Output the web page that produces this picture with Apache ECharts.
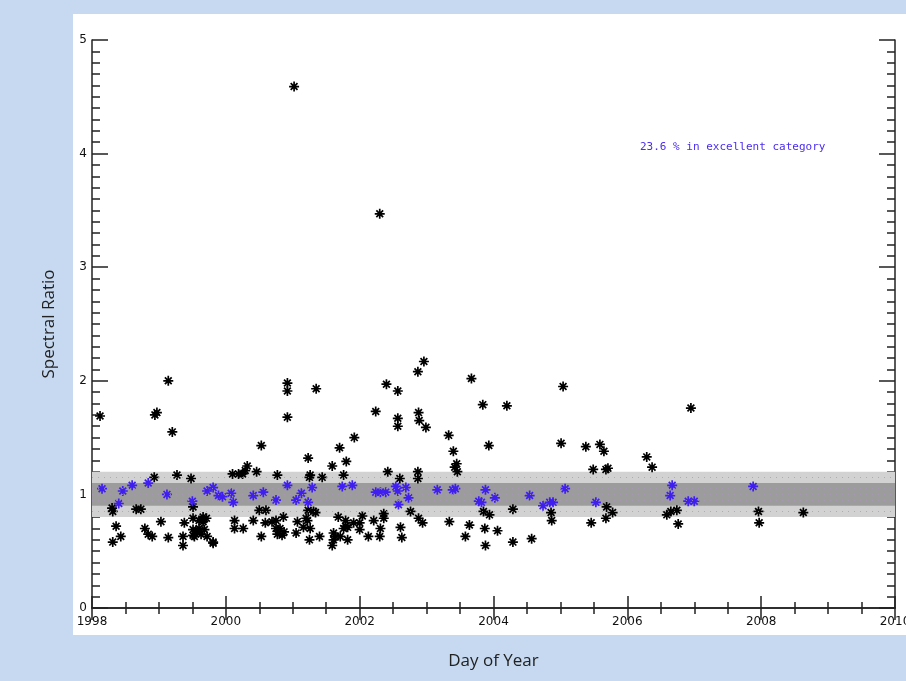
<!DOCTYPE html>
<html>
<head>
<meta charset="utf-8">
<script src="https://cdn.jsdelivr.net/npm/echarts@6/dist/echarts.min.js"></script>
<style>
  html, body { margin: 0; padding: 0; background: #c6d9f0; }
  #chart { width: 906px; height: 681px; }
</style>
</head>
<body>
<div id="chart"></div>
<script>
// black points (all measurements)
var blackYears = [
  1998.12, 1998.30, 1998.31, 1998.36, 1998.31, 1998.43, 1998.93, 1998.66, 1998.73, 1999.03,
  1998.79, 1998.84, 1998.90, 1999.14, 1999.27, 1999.48, 1999.51, 1999.38, 1999.36, 1999.36,
  1999.51, 1999.53, 1999.60, 1999.66, 1999.71, 1999.68, 1999.63, 1999.72, 1999.81, 2000.10,
  2000.25, 2000.29, 2000.32, 2000.46, 2000.53, 2000.77, 2001.23, 2001.25, 2001.44, 2001.59,
  2000.50, 2000.60, 2000.13, 2000.13, 2000.26, 2000.41, 2000.53, 2001.23, 2001.31, 2001.22,
  2001.26, 2001.40, 2001.25, 2001.61, 2001.59, 2001.71, 2000.59, 2000.69, 2000.75, 2000.86,
  2000.81, 2000.87, 2000.75, 2000.84, 2000.77, 2001.07, 2001.05, 2001.20, 2001.16, 2001.34,
  2001.61, 2001.68, 2001.79, 2001.82, 2001.91, 2001.76, 2001.82, 2001.70, 2001.80, 2001.76,
  2001.26, 2000.19, 2002.42, 2002.60, 2002.87, 2002.87, 2003.40, 2003.45, 2003.42, 2003.46,
  2003.93, 2005.01, 2005.38, 2005.59, 2005.65, 2005.49, 2005.68, 2001.79, 2002.04, 2002.00,
  2002.21, 2002.36, 2002.36, 2002.31, 2002.00, 2002.13, 2002.30, 2002.61, 2002.63, 2002.76,
  2002.88, 2002.94, 2003.34, 2003.64, 2003.85, 2003.94, 2003.87, 2004.06, 2003.58, 2003.88,
  2004.29, 2004.57, 2004.29, 2004.86, 2004.87, 2001.64, 2005.46, 2005.69, 2005.68, 2005.78,
  2006.29, 2006.37, 2005.71, 2006.59, 2006.65, 2006.74, 2006.76, 2007.96, 2007.97, 2008.63,
  1998.97, 1998.94, 1999.14, 1999.20, 2000.92, 2000.92, 2000.92, 2001.02, 2001.35, 2002.30,
  2002.24, 2002.40, 2002.57, 2002.57, 2002.57, 2002.87, 2002.96, 2002.88, 2002.89, 2002.99,
  2003.67, 2003.84, 2004.20, 2003.33, 2005.04, 2006.95, 2001.92, 1999.51, 1999.66, 1999.66,
  1999.57, 1999.60, 1999.51, 1999.81
];
var blackRatios = [
  1.69, 0.88, 0.85, 0.72, 0.58, 0.63, 1.15, 0.87, 0.87, 0.76,
  0.70, 0.65, 0.63, 0.62, 1.17, 1.14, 0.89, 0.75, 0.63, 0.55,
  0.69, 0.63, 0.77, 0.78, 0.79, 0.69, 0.65, 0.63, 0.58, 1.18,
  1.18, 1.21, 1.25, 1.20, 1.43, 1.17, 1.32, 1.15, 1.15, 1.25,
  0.86, 0.86, 0.77, 0.70, 0.70, 0.77, 0.63, 0.86, 0.85, 0.77,
  0.70, 0.63, 0.60, 0.60, 0.55, 0.63, 0.75, 0.76, 0.77, 0.80,
  0.70, 0.67, 0.70, 0.64, 0.65, 0.76, 0.66, 0.79, 0.71, 0.84,
  0.66, 0.80, 0.77, 0.71, 0.75, 0.70, 0.60, 1.41, 1.29, 1.17,
  1.17, 1.18, 1.20, 1.14, 1.20, 1.14, 1.38, 1.27, 1.24, 1.20,
  1.43, 1.45, 1.42, 1.44, 1.38, 1.22, 1.22, 0.72, 0.81, 0.75,
  0.77, 0.83, 0.79, 0.70, 0.69, 0.63, 0.63, 0.71, 0.62, 0.85,
  0.79, 0.75, 0.76, 0.73, 0.85, 0.82, 0.70, 0.68, 0.63, 0.55,
  0.58, 0.61, 0.87, 0.84, 0.77, 0.63, 0.75, 0.89, 0.79, 0.84,
  1.33, 1.24, 1.23, 0.82, 0.85, 0.86, 0.74, 0.85, 0.75, 0.84,
  1.72, 1.70, 2.00, 1.55, 1.98, 1.91, 1.68, 4.59, 1.93, 3.47,
  1.73, 1.97, 1.91, 1.67, 1.60, 2.08, 2.17, 1.72, 1.65, 1.59,
  2.02, 1.79, 1.78, 1.52, 1.95, 1.76, 1.50, 0.79, 0.80, 0.76,
  0.67, 0.70, 0.64, 0.57
];
// blue points (excellent category)
var blueYears = [
  1998.15, 1998.40, 1998.46, 1998.60, 1998.84, 1999.12, 1999.50, 1999.72, 1999.81, 1999.89,
  1999.95, 2000.08, 2000.11, 2000.41, 2000.56, 2000.75, 2000.92, 2001.05, 2001.13, 2001.23,
  2001.29, 2001.74, 2001.89, 2002.24, 2002.31, 2002.39, 2002.54, 2002.57, 2002.69, 2002.73,
  2002.58, 2003.16, 2003.39, 2003.43, 2003.78, 2003.82, 2003.88, 2004.02, 2004.54, 2004.74,
  2004.84, 2004.89, 2005.07, 2005.53, 2006.67, 2006.64, 2006.91, 2007.00, 2007.88
];
var blueRatios = [
  1.05, 0.92, 1.03, 1.08, 1.10, 1.00, 0.94, 1.03, 1.06, 0.99,
  0.98, 1.01, 0.93, 0.99, 1.02, 0.95, 1.08, 0.95, 1.01, 0.93,
  1.06, 1.07, 1.08, 1.02, 1.02, 1.02, 1.07, 1.03, 1.06, 0.97,
  0.91, 1.04, 1.04, 1.05, 0.94, 0.93, 1.04, 0.97, 0.99, 0.90,
  0.93, 0.93, 1.05, 0.93, 1.08, 0.99, 0.94, 0.94, 1.07
];
var outerBand = [0.8, 1.2];
var innerBand = [0.9, 1.1];
var dotRows = [0.85, 0.95, 1.0, 1.05, 1.15];
var noteText = '23.6 % in excellent category';

function zip(a, b) {
  var out = [];
  for (var i = 0; i < a.length; i++) out.push([a[i], b[i]]);
  return out;
}

// asterisk marker
var star = 'path://M5,0L5,10M0,5L10,5M1.6,1.6L8.4,8.4M8.4,1.6L1.6,8.4';
var axisColor = '#222';
var labelFont = { fontFamily: 'DejaVu Sans', fontSize: 12, color: '#111' };

var chart = echarts.init(document.getElementById('chart'));
chart.setOption({
  backgroundColor: '#c6d9f0',
  animation: false,
  graphic: [
    { type: 'rect', z: -10, shape: { x: 73, y: 14, width: 840, height: 621 }, style: { fill: '#fff' } },
    { type: 'text', left: 640, top: 142, z: 10,
      style: { text: noteText, fill: '#4a2cf0', font: '11px "DejaVu Sans Mono"' } }
  ],
  grid: { left: 92, top: 40, right: 11, bottom: 73, containLabel: false, outerBoundsMode: 'none' },
  xAxis: [{
    type: 'value', min: 1998, max: 2010, interval: 2,
    name: 'Day of Year', nameLocation: 'middle', nameGap: 45,
    nameTextStyle: { fontFamily: 'Open Sans', fontSize: 17, color: '#222' },
    axisLine: { lineStyle: { color: axisColor, width: 1.5 } },
    axisTick: { inside: true, length: 12, lineStyle: { color: axisColor, width: 1.5 } },
    minorTick: { show: true, splitNumber: 4, length: 6, lineStyle: { color: axisColor, width: 1.5 } },
    axisLabel: Object.assign({ margin: 8, showMaxLabel: true, formatter: function (v) { return String(v); } }, labelFont),
    splitLine: { show: false }
  }, {
    type: 'value', min: 1998, max: 2010, interval: 2, position: 'top',
    axisLine: { lineStyle: { color: axisColor, width: 1.5 } },
    axisTick: { inside: true, length: 12, lineStyle: { color: axisColor, width: 1.5 } },
    minorTick: { show: true, splitNumber: 4, length: 6, lineStyle: { color: axisColor, width: 1.5 } },
    axisLabel: { show: false },
    splitLine: { show: false }
  }],
  yAxis: [{
    type: 'value', min: 0, max: 5, interval: 1,
    name: 'Spectral Ratio', nameLocation: 'middle', nameGap: 34,
    nameTextStyle: { fontFamily: 'Open Sans', fontSize: 17, color: '#222' },
    axisLine: { show: true, lineStyle: { color: axisColor, width: 1.5 } },
    axisTick: { show: true, inside: true, length: 16, lineStyle: { color: axisColor, width: 1.5 } },
    minorTick: { show: true, splitNumber: 10, length: 8, lineStyle: { color: axisColor, width: 1.5 } },
    axisLabel: Object.assign({ margin: 5 }, labelFont),
    splitLine: { show: false }
  }, {
    type: 'value', min: 0, max: 5, interval: 1, position: 'right',
    axisLine: { show: true, lineStyle: { color: axisColor, width: 1.5 } },
    axisTick: { show: true, inside: true, length: 16, lineStyle: { color: axisColor, width: 1.5 } },
    minorTick: { show: true, splitNumber: 10, length: 8, lineStyle: { color: axisColor, width: 1.5 } },
    axisLabel: { show: false },
    splitLine: { show: false }
  }],
  series: [
    {
      type: 'scatter', data: [], z: 1,
      markArea: {
        silent: true,
        data: [
          [{ yAxis: outerBand[0], itemStyle: { color: '#d2d2d2' } }, { yAxis: outerBand[1] }],
          [{ yAxis: innerBand[0], itemStyle: { color: '#9c9c9c' } }, { yAxis: innerBand[1] }]
        ]
      },
      markLine: {
        silent: true, symbol: 'none', label: { show: false },
        lineStyle: { color: 'rgba(170,150,185,0.75)', type: [1, 5], width: 1 },
        data: dotRows.map(function (v) { return { yAxis: v }; })
      }
    },
    {
      type: 'scatter', z: 3, symbol: star, symbolSize: 10,
      itemStyle: { color: 'none', borderColor: '#000', borderWidth: 1.7, opacity: 1 },
      data: zip(blackYears, blackRatios)
    },
    {
      type: 'scatter', z: 4, symbol: star, symbolSize: 10,
      itemStyle: { color: 'none', borderColor: '#3f1ff0', borderWidth: 1.7, opacity: 1 },
      data: zip(blueYears, blueRatios)
    }
  ]
});
</script>
</body>
</html>
